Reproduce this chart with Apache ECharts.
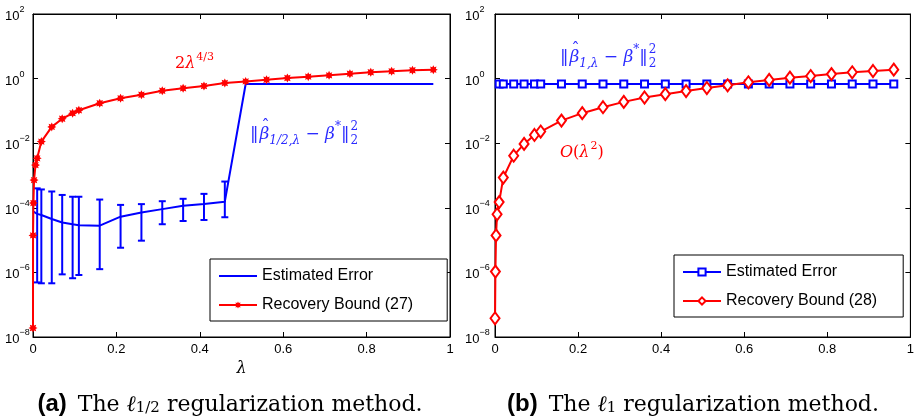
<!DOCTYPE html>
<html>
<head>
<meta charset="utf-8">
<script src="https://cdn.jsdelivr.net/npm/echarts@6/dist/echarts.min.js"></script>
<style>
html, body { margin: 0; padding: 0; background: #fff; }
#chart { width: 917px; height: 420px; }
</style>
</head>
<body>
<div id="chart"></div>
<script>
// (a) l_1/2 regularization
var lamBoundA = [0.000001, 0.0001, 0.001, 0.0025, 0.006, 0.01, 0.02, 0.045, 0.07, 0.095, 0.11, 0.16, 0.21, 0.26, 0.31, 0.36, 0.41, 0.46, 0.51, 0.56, 0.61, 0.66, 0.71, 0.76, 0.81, 0.86, 0.91, 0.96];
var boundA = [1.9e-8, 1.4e-5, 1.4e-4, 7.2e-4, 2.1e-3, 3.4e-3, 0.0112, 0.032, 0.057, 0.085, 0.105, 0.172, 0.245, 0.316, 0.42, 0.50, 0.59, 0.73, 0.82, 0.92, 1.04, 1.15, 1.26, 1.42, 1.57, 1.68, 1.81, 1.89];
var lamErrA = [0.001, 0.01, 0.02, 0.045, 0.07, 0.095, 0.11, 0.16, 0.21, 0.26, 0.31, 0.36, 0.41, 0.46, 0.51, 0.56, 0.61, 0.66, 0.71, 0.76, 0.81, 0.86, 0.91, 0.96];
var errA = [7.6e-5, 6.5e-5, 6.0e-5, 4.5e-5, 3.5e-5, 3.1e-5, 2.9e-5, 2.8e-5, 5.3e-5, 7.2e-5, 9.1e-5, 1.15e-4, 1.32e-4, 1.55e-4, 0.68, 0.68, 0.68, 0.68, 0.68, 0.68, 0.68, 0.68, 0.68, 0.68];
var lamBarA = [0.01, 0.02, 0.045, 0.07, 0.095, 0.11, 0.16, 0.21, 0.26, 0.31, 0.36, 0.41, 0.46];
var barLowA = [4.9e-7, 4.6e-7, 4.6e-7, 8.7e-7, 6.6e-7, 8.3e-7, 1.26e-6, 5.8e-6, 9.6e-6, 3.1e-5, 3.9e-5, 4.2e-5, 5.1e-5];
var barHighA = [4.0e-4, 3.7e-4, 3.2e-4, 2.5e-4, 2.2e-4, 2.2e-4, 1.8e-4, 1.23e-4, 1.3e-4, 1.6e-4, 1.9e-4, 2.7e-4, 6.5e-4];

// (b) l_1 regularization
var lamBoundB = [0.0001, 0.001, 0.0025, 0.005, 0.01, 0.02, 0.045, 0.07, 0.095, 0.11, 0.16, 0.21, 0.26, 0.31, 0.36, 0.41, 0.46, 0.51, 0.56, 0.61, 0.66, 0.71, 0.76, 0.81, 0.86, 0.91, 0.96];
var boundB = [3.8e-8, 1.06e-6, 1.4e-5, 6.3e-5, 1.5e-4, 8.6e-4, 4.1e-3, 9.5e-3, 0.018, 0.023, 0.05, 0.085, 0.13, 0.19, 0.26, 0.33, 0.41, 0.51, 0.62, 0.77, 0.91, 1.07, 1.2, 1.38, 1.57, 1.72, 1.89];
var lamErrB = [0.01, 0.02, 0.045, 0.07, 0.095, 0.11, 0.16, 0.21, 0.26, 0.31, 0.36, 0.41, 0.46, 0.51, 0.56, 0.61, 0.66, 0.71, 0.76, 0.81, 0.86, 0.91, 0.96];
var errB = [0.68, 0.68, 0.68, 0.68, 0.68, 0.68, 0.68, 0.68, 0.68, 0.68, 0.68, 0.68, 0.68, 0.68, 0.68, 0.68, 0.68, 0.68, 0.68, 0.68, 0.68, 0.68, 0.68];

var xTicks = [0, 0.2, 0.4, 0.6, 0.8, 1];
var yTicks = [1e-8, 1e-6, 1e-4, 1e-2, 1, 100];

var RED = '#ff0000', BLUE = '#0000ff', NOTE_BLUE = '#2b2bff';
var SANS = 'Liberation Sans', SERIF = 'DejaVu Serif';
var starPath = 'path://M10 0 L5.5 2.3 L7.07 7.07 L2.3 5.5 L0 10 L-2.3 5.5 L-7.07 7.07 L-5.5 2.3 L-10 0 L-5.5 -2.3 L-7.07 -7.07 L-2.3 -5.5 L0 -10 L2.3 -5.5 L7.07 -7.07 L5.5 -2.3 Z';

function pairs(xs, ys) {
    return xs.map(function (x, i) { return [x, ys[i]]; });
}

function logLabel(v) {
    var e = Math.round(Math.log10(v));
    return '{b|10}{e|' + (e < 0 ? '\u2212' + (-e) : e) + '}';
}

var yRich = {
    b: { fontSize: 13, fontFamily: SANS, color: '#000', lineHeight: 18, verticalAlign: 'bottom' },
    e: { fontSize: 9, fontFamily: SANS, color: '#000', lineHeight: 10, verticalAlign: 'top' }
};

function xAxes(grid, name) {
    var base = {
        type: 'value', gridIndex: grid, min: 0, max: 1, interval: 0.2,
        splitLine: { show: false },
        axisLine: { show: true, onZero: false, lineStyle: { color: '#000', width: 1 } },
        axisTick: { show: true, inside: true, length: 5, lineStyle: { color: '#000' } }
    };
    var bottom = Object.assign({}, base, {
        position: 'bottom',
        axisLabel: {
            show: true, margin: 6, color: '#000', fontSize: 13, fontFamily: SANS,
            formatter: function (v) { return xTicks.indexOf(v) >= 0 ? String(v) : ''; }
        }
    });
    if (name) {
        bottom.name = name;
        bottom.nameLocation = 'middle';
        bottom.nameGap = 24;
        bottom.nameTextStyle = { fontFamily: SERIF, fontStyle: 'italic', fontSize: 16, color: '#000' };
    }
    var top = Object.assign({}, base, { position: 'top', axisLabel: { show: false } });
    return [bottom, top];
}

function yAxes(grid, margin) {
    var base = {
        type: 'log', gridIndex: grid, min: 1e-8, max: 100, logBase: 10,
        splitLine: { show: false }, minorTick: { show: false },
        axisLine: { show: true, onZero: false, lineStyle: { color: '#000', width: 1 } },
        axisTick: { show: true, inside: true, length: 5, customValues: yTicks, lineStyle: { color: '#000' } }
    };
    var left = Object.assign({}, base, {
        position: 'left',
        axisLabel: { show: true, align: 'left', margin: margin, customValues: yTicks, formatter: logLabel, rich: yRich }
    });
    var right = Object.assign({}, base, { position: 'right', axisLabel: { show: false } });
    return [left, right];
}

function errRender(params, api) {
    var x = api.value(0);
    var lo = api.coord([x, api.value(1)]);
    var hi = api.coord([x, api.value(2)]);
    var w = 3.5;
    var st = { stroke: BLUE, lineWidth: 2 };
    return {
        type: 'group',
        children: [
            { type: 'line', shape: { x1: lo[0], y1: lo[1], x2: hi[0], y2: hi[1] }, style: st },
            { type: 'line', shape: { x1: lo[0] - w, y1: lo[1], x2: lo[0] + w, y2: lo[1] }, style: st },
            { type: 'line', shape: { x1: hi[0] - w, y1: hi[1], x2: hi[0] + w, y2: hi[1] }, style: st }
        ]
    };
}

// lays out a little formula piece by piece so hats and stacked scripts can be placed
var measureCtx = document.createElement('canvas').getContext('2d');
function mathText(x0, y0, pieces, color) {
    var out = [], x = x0, lastW = 0;
    pieces.forEach(function (p) {
        var size = p.size || 16;
        measureCtx.font = (p.italic ? 'italic ' : '') + size + 'px "' + SERIF + '"';
        var w = measureCtx.measureText(p.t).width;
        var px = p.stack ? x - lastW : x;
        out.push({
            type: 'text', x: px, y: y0 + (p.dy || 0), silent: true,
            style: { text: p.t, fontSize: size, fontFamily: SERIF, fontStyle: p.italic ? 'italic' : 'normal', fill: color, align: 'left', verticalAlign: 'middle' }
        });
        if (p.hat) {
            out.push({
                type: 'text', x: px + w * 0.62, y: y0 - size * 0.5, silent: true,
                style: { text: '\u02C6', fontSize: size, fontFamily: SERIF, fill: color, align: 'center', verticalAlign: 'middle' }
            });
        }
        if (!p.stack) { x += w + (p.gap || 0); lastW = w; }
    });
    return out;
}

var xa = xAxes(0, 'λ'), xb = xAxes(1, null);
var ya = yAxes(0, 28), yb = yAxes(1, 30);

var legendBase = {
    orient: 'vertical', backgroundColor: '#fff', borderColor: '#000', borderWidth: 1,
    itemGap: 13, itemWidth: 38, itemHeight: 9, selectedMode: false,
    textStyle: { fontSize: 16, fontFamily: SANS, color: '#000' },
    formatter: function (n) { return n.replace(' #b', ''); }
};

var captionRich = {
    a: { fontSize: 24, fontFamily: SANS, fontWeight: 'bold', color: '#000', lineHeight: 28, verticalAlign: 'bottom' },
    g: { width: 11, lineHeight: 28 },
    r: { fontSize: 22, fontFamily: SERIF, color: '#000', lineHeight: 28, verticalAlign: 'bottom' },
    i: { fontSize: 22, fontFamily: SERIF, fontStyle: 'italic', color: '#000', lineHeight: 28, verticalAlign: 'bottom' },
    s: { fontSize: 15, fontFamily: SERIF, color: '#000', lineHeight: 16, verticalAlign: 'bottom' }
};

var normPieces = function (sub) {
    return [
        { t: '‖', size: 17, gap: 1 }, { t: 'β', size: 17, italic: true, hat: true }, { t: sub, size: 12, italic: true, dy: 6 },
        { t: ' − ', size: 17 }, { t: 'β', size: 17, italic: true }, { t: '*', size: 12, dy: -8 }, { t: '‖', size: 17, gap: 1 },
        { t: '2', size: 12, dy: -8 }, { t: '2', size: 12, dy: 6, stack: true }
    ];
};

var notes = [].concat(
    mathText(175, 64, [
        { t: '2' }, { t: 'λ', italic: true, gap: 1 }, { t: '4/3', size: 11, dy: -7 }
    ], RED),
    mathText(250, 135, normPieces('1/2,λ'), NOTE_BLUE),
    mathText(560, 58, normPieces('1,λ'), NOTE_BLUE),
    mathText(560, 153, [
        { t: 'O', italic: true }, { t: '(' }, { t: 'λ', italic: true, gap: 1 }, { t: '2', size: 11, dy: -7 }, { t: ')' }
    ], RED)
);

var option = {
    animation: false,
    backgroundColor: '#fff',
    grid: [
        { left: 33, top: 14, width: 417, height: 323, show: true, borderColor: '#000', borderWidth: 1, backgroundColor: 'transparent' },
        { left: 495, top: 14, width: 416, height: 323, show: true, borderColor: '#000', borderWidth: 1, backgroundColor: 'transparent' }
    ],
    xAxis: [xa[0], xa[1], xb[0], xb[1]],
    yAxis: [ya[0], ya[1], yb[0], yb[1]],
    legend: [
        Object.assign({}, legendBase, {
            left: 210, top: 259, padding: [9, 34, 8, 8],
            data: [{ name: 'Estimated Error', itemStyle: { opacity: 0 } }, 'Recovery Bound (27)']
        }),
        Object.assign({}, legendBase, {
            left: 674, top: 255, padding: [9, 26, 8, 8],
            data: ['Estimated Error #b', 'Recovery Bound (28)']
        })
    ],
    series: [
        {
            name: 'Estimated Error', type: 'line', xAxisIndex: 0, yAxisIndex: 0,
            data: pairs(lamErrA, errA), symbol: 'none', z: 3,
            lineStyle: { color: BLUE, width: 2 }, itemStyle: { color: BLUE }
        },
        {
            name: 'errA', type: 'custom', xAxisIndex: 0, yAxisIndex: 0, z: 3,
            data: lamBarA.map(function (x, i) { return [x, barLowA[i], barHighA[i]]; }),
            encode: { x: 0, y: [1, 2] },
            renderItem: errRender
        },
        {
            name: 'Recovery Bound (27)', type: 'line', xAxisIndex: 0, yAxisIndex: 0,
            data: pairs(lamBoundA, boundA), symbol: starPath, symbolSize: 9, z: 4,
            lineStyle: { color: RED, width: 2 }, itemStyle: { color: RED }
        },
        {
            name: 'Estimated Error #b', type: 'line', xAxisIndex: 2, yAxisIndex: 2,
            data: pairs(lamErrB, errB), symbol: 'emptyRect', symbolSize: 7, z: 3,
            lineStyle: { color: BLUE, width: 2 }, itemStyle: { color: BLUE, borderColor: BLUE, borderWidth: 1.5 }
        },
        {
            name: 'Recovery Bound (28)', type: 'line', xAxisIndex: 2, yAxisIndex: 2,
            data: pairs(lamBoundB, boundB), symbol: 'emptyDiamond', symbolSize: [9, 12], z: 4,
            lineStyle: { color: RED, width: 2 }, itemStyle: { color: RED, borderColor: RED, borderWidth: 1.5 }
        }
    ],
    graphic: notes.concat([
        {
            type: 'text', x: 230, y: 402, silent: true,
            style: { text: '{a|(a)}{g|}{r|The }{i|ℓ}{s|1/2}{r| regularization method.}', align: 'center', verticalAlign: 'middle', rich: captionRich }
        },
        {
            type: 'text', x: 693, y: 402, silent: true,
            style: { text: '{a|(b)}{g|}{r|The }{i|ℓ}{s|1}{r| regularization method.}', align: 'center', verticalAlign: 'middle', rich: captionRich }
        }
    ])
};

var chart = echarts.init(document.getElementById('chart'));
chart.setOption(option);
</script>
</body>
</html>
